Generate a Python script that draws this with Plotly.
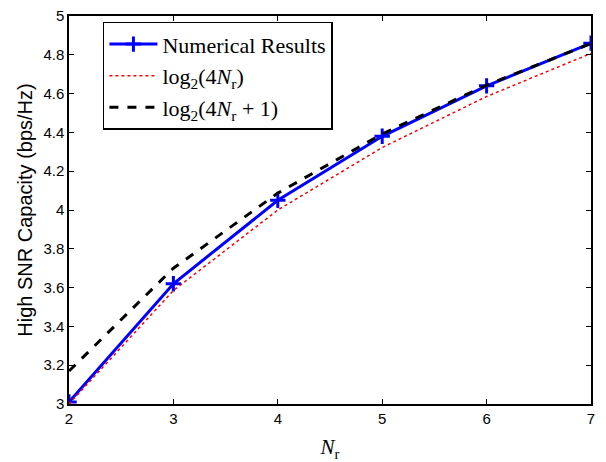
import plotly.graph_objects as go

nr = [2, 3, 4, 5, 6, 7]
numerical = [3.01, 3.62, 4.05, 4.38, 4.64, 4.86]
log_4n = [3.0, 3.585, 4.0, 4.322, 4.585, 4.807]
log_4n1 = [3.17, 3.70, 4.087, 4.392, 4.644, 4.858]
xticks = [2, 3, 4, 5, 6, 7]
yticks = [3, 3.2, 3.4, 3.6, 3.8, 4, 4.2, 4.4, 4.6, 4.8, 5]

serif = "Liberation Serif"
sans = "Liberation Sans"

fig = go.Figure()
fig.add_trace(go.Scatter(
    x=nr, y=numerical, mode="lines+markers", name="Numerical Results",
    line=dict(color="#0000ff", width=3),
    marker=dict(symbol="cross-thin", size=11, line=dict(color="#0000ff", width=3)),
))
fig.add_trace(go.Scatter(
    x=nr, y=log_4n, mode="lines", name="log<sub>2</sub>(4<i>N</i><sub>r</sub>)",
    line=dict(color="#ff0000", width=1.5, dash="dot"),
))
fig.add_trace(go.Scatter(
    x=nr, y=log_4n1, mode="lines", name="log<sub>2</sub>(4<i>N</i><sub>r</sub> + 1)",
    line=dict(color="#000000", width=3, dash="dash"),
))

axis_common = dict(
    showgrid=False, zeroline=False, showline=True, linecolor="black", linewidth=1.5,
    mirror="ticks", ticks="inside", ticklen=5, tickcolor="black", tickwidth=1,
    tickfont=dict(family=sans, size=15, color="black"),
)
fig.update_xaxes(range=[2, 7], tickvals=xticks,
                 title=dict(text="<i>N</i><sub>r</sub>", font=dict(family=serif, size=21, color="black"), standoff=14),
                 **axis_common)
fig.update_yaxes(range=[3, 5], tickvals=yticks, ticktext=[f"{v:g}" for v in yticks],
                 title=dict(text="High SNR Capacity (bps/Hz)", font=dict(family=sans, size=20, color="black"), standoff=5),
                 **axis_common)

fig.update_layout(
    width=606, height=462,
    margin=dict(l=69, r=15, t=7, b=51),
    plot_bgcolor="white", paper_bgcolor="white",
    legend=dict(x=0.065, y=0.985, xanchor="left", yanchor="top",
                bordercolor="black", borderwidth=1.5, bgcolor="white",
                font=dict(family=serif, size=22, color="black"),
                tracegroupgap=0, itemwidth=48),
    showlegend=True,
)
fig.write_html("out.html")
